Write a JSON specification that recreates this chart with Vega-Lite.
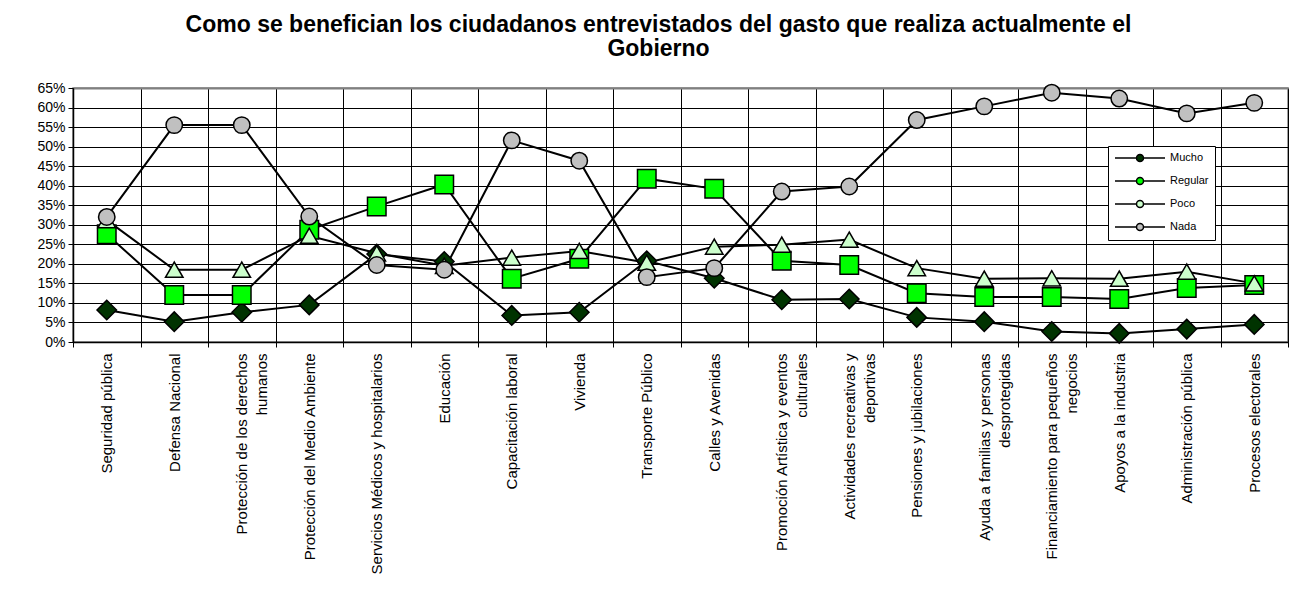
{
  "$schema": "https://vega.github.io/schema/vega-lite/v6.json",
  "width": 1215,
  "height": 254,
  "autosize": "none",
  "padding": {"left": 73, "top": 88, "right": 23, "bottom": 255},
  "background": "white",
  "title": {
    "text": ["Como se benefician los ciudadanos entrevistados del gasto que realiza actualmente el", "Gobierno"],
    "font": "Liberation Sans",
    "fontSize": 23,
    "fontWeight": "bold",
    "color": "black",
    "anchor": "middle",
    "lineHeight": 24,
    "offset": 20,
    "dx": -22
  },
  "data": {
    "values": [
      {"cat": "Seguridad pública", "serie": "Mucho", "v": 0.082},
      {"cat": "Defensa Nacional", "serie": "Mucho", "v": 0.052},
      {"cat": "Protección de los derechos|humanos", "serie": "Mucho", "v": 0.076},
      {"cat": "Protección del Medio Ambiente", "serie": "Mucho", "v": 0.095},
      {"cat": "Servicios Médicos y hospitalarios", "serie": "Mucho", "v": 0.225},
      {"cat": "Educación", "serie": "Mucho", "v": 0.206},
      {"cat": "Capacitación laboral", "serie": "Mucho", "v": 0.068},
      {"cat": "Vivienda", "serie": "Mucho", "v": 0.076},
      {"cat": "Transporte Público", "serie": "Mucho", "v": 0.208},
      {"cat": "Calles y Avenidas", "serie": "Mucho", "v": 0.163},
      {"cat": "Promoción Artística y eventos|culturales", "serie": "Mucho", "v": 0.108},
      {"cat": "Actividades recreativas y|deportivas", "serie": "Mucho", "v": 0.110},
      {"cat": "Pensiones y jubilaciones", "serie": "Mucho", "v": 0.063},
      {"cat": "Ayuda a familias y personas|desprotegidas", "serie": "Mucho", "v": 0.052},
      {"cat": "Financiamiento para pequeños|negocios", "serie": "Mucho", "v": 0.027},
      {"cat": "Apoyos a la industria", "serie": "Mucho", "v": 0.022},
      {"cat": "Administración pública", "serie": "Mucho", "v": 0.033},
      {"cat": "Procesos electorales", "serie": "Mucho", "v": 0.045},
      {"cat": "Seguridad pública", "serie": "Regular", "v": 0.276},
      {"cat": "Defensa Nacional", "serie": "Regular", "v": 0.120},
      {"cat": "Protección de los derechos|humanos", "serie": "Regular", "v": 0.120},
      {"cat": "Protección del Medio Ambiente", "serie": "Regular", "v": 0.287},
      {"cat": "Servicios Médicos y hospitalarios", "serie": "Regular", "v": 0.347},
      {"cat": "Educación", "serie": "Regular", "v": 0.403},
      {"cat": "Capacitación laboral", "serie": "Regular", "v": 0.162},
      {"cat": "Vivienda", "serie": "Regular", "v": 0.213},
      {"cat": "Transporte Público", "serie": "Regular", "v": 0.418},
      {"cat": "Calles y Avenidas", "serie": "Regular", "v": 0.392},
      {"cat": "Promoción Artística y eventos|culturales", "serie": "Regular", "v": 0.208},
      {"cat": "Actividades recreativas y|deportivas", "serie": "Regular", "v": 0.197},
      {"cat": "Pensiones y jubilaciones", "serie": "Regular", "v": 0.125},
      {"cat": "Ayuda a familias y personas|desprotegidas", "serie": "Regular", "v": 0.115},
      {"cat": "Financiamiento para pequeños|negocios", "serie": "Regular", "v": 0.115},
      {"cat": "Apoyos a la industria", "serie": "Regular", "v": 0.110},
      {"cat": "Administración pública", "serie": "Regular", "v": 0.138},
      {"cat": "Procesos electorales", "serie": "Regular", "v": 0.146},
      {"cat": "Seguridad pública", "serie": "Poco", "v": 0.312},
      {"cat": "Defensa Nacional", "serie": "Poco", "v": 0.185},
      {"cat": "Protección de los derechos|humanos", "serie": "Poco", "v": 0.185},
      {"cat": "Protección del Medio Ambiente", "serie": "Poco", "v": 0.272},
      {"cat": "Servicios Médicos y hospitalarios", "serie": "Poco", "v": 0.227},
      {"cat": "Educación", "serie": "Poco", "v": 0.195},
      {"cat": "Capacitación laboral", "serie": "Poco", "v": 0.216},
      {"cat": "Vivienda", "serie": "Poco", "v": 0.233},
      {"cat": "Transporte Público", "serie": "Poco", "v": 0.203},
      {"cat": "Calles y Avenidas", "serie": "Poco", "v": 0.244},
      {"cat": "Promoción Artística y eventos|culturales", "serie": "Poco", "v": 0.249},
      {"cat": "Actividades recreativas y|deportivas", "serie": "Poco", "v": 0.262},
      {"cat": "Pensiones y jubilaciones", "serie": "Poco", "v": 0.189},
      {"cat": "Ayuda a familias y personas|desprotegidas", "serie": "Poco", "v": 0.162},
      {"cat": "Financiamiento para pequeños|negocios", "serie": "Poco", "v": 0.163},
      {"cat": "Apoyos a la industria", "serie": "Poco", "v": 0.162},
      {"cat": "Administración pública", "serie": "Poco", "v": 0.180},
      {"cat": "Procesos electorales", "serie": "Poco", "v": 0.150},
      {"cat": "Seguridad pública", "serie": "Nada", "v": 0.320},
      {"cat": "Defensa Nacional", "serie": "Nada", "v": 0.555},
      {"cat": "Protección de los derechos|humanos", "serie": "Nada", "v": 0.555},
      {"cat": "Protección del Medio Ambiente", "serie": "Nada", "v": 0.321},
      {"cat": "Servicios Médicos y hospitalarios", "serie": "Nada", "v": 0.197},
      {"cat": "Educación", "serie": "Nada", "v": 0.185},
      {"cat": "Capacitación laboral", "serie": "Nada", "v": 0.516},
      {"cat": "Vivienda", "serie": "Nada", "v": 0.464},
      {"cat": "Transporte Público", "serie": "Nada", "v": 0.166},
      {"cat": "Calles y Avenidas", "serie": "Nada", "v": 0.189},
      {"cat": "Promoción Artística y eventos|culturales", "serie": "Nada", "v": 0.385},
      {"cat": "Actividades recreativas y|deportivas", "serie": "Nada", "v": 0.398},
      {"cat": "Pensiones y jubilaciones", "serie": "Nada", "v": 0.568},
      {"cat": "Ayuda a familias y personas|desprotegidas", "serie": "Nada", "v": 0.603},
      {"cat": "Financiamiento para pequeños|negocios", "serie": "Nada", "v": 0.638},
      {"cat": "Apoyos a la industria", "serie": "Nada", "v": 0.623},
      {"cat": "Administración pública", "serie": "Nada", "v": 0.585},
      {"cat": "Procesos electorales", "serie": "Nada", "v": 0.612}
    ]
  },
  "encoding": {
    "x": {
      "field": "cat",
      "type": "nominal",
      "sort": null,
      "scale": {"type": "band", "paddingInner": 0, "paddingOuter": 0},
      "axis": {
        "title": null,
        "labelAngle": -90,
        "labelAlign": "right",
        "labelBaseline": "middle",
        "labelExpr": "split(datum.label, '|')",
        "labelLineHeight": 20,
        "labelFont": "Liberation Sans",
        "labelFontSize": 15,
        "labelColor": "black",
        "labelLimit": 0,
        "labelPadding": 6,
        "labelOverlap": false,
        "tickBand": "extent",
        "grid": true,
        "gridColor": "black",
        "gridWidth": 1,
        "gridOpacity": 1,
        "domainColor": "black",
        "domainWidth": 1.5,
        "tickColor": "black",
        "tickSize": 5,
        "tickWidth": 1
      }
    },
    "y": {
      "field": "v",
      "type": "quantitative",
      "scale": {"domain": [0, 0.65], "nice": false, "zero": true},
      "axis": {
        "title": null,
        "values": [0, 0.05, 0.1, 0.15, 0.2, 0.25, 0.3, 0.35, 0.4, 0.45, 0.5, 0.55, 0.6, 0.65],
        "format": ".0%",
        "labelFont": "Liberation Sans",
        "labelFontSize": 14,
        "labelColor": "black",
        "labelPadding": 3,
        "grid": true,
        "gridColor": {"condition": {"test": "datum.value >= 0.65", "value": "#808080"}, "value": "black"},
        "gridWidth": {"condition": {"test": "datum.value >= 0.65", "value": 2}, "value": 1},
        "gridOpacity": 1,
        "domainColor": "black",
        "domainWidth": 1.5,
        "tickColor": "black",
        "tickSize": 5,
        "tickWidth": 1
      }
    }
  },
  "layer": [
    {
      "mark": {"type": "line", "color": "black", "strokeWidth": 2},
      "encoding": {"detail": {"field": "serie", "type": "nominal"}}
    },
    {
      "mark": {"type": "point", "filled": true, "stroke": "black", "strokeWidth": 1.5, "opacity": 1},
      "encoding": {
        "fill": {
          "field": "serie",
          "type": "nominal",
          "title": "Serie",
          "scale": {"domain": ["Mucho", "Regular", "Poco", "Nada"], "range": ["#003300", "#00ff00", "#ccffcc", "#c0c0c0"]},
          "legend": {
            "title": null,
            "orient": "none",
            "legendX": 1035,
            "legendY": 58,
            "strokeColor": "black",
            "fillColor": "white",
            "padding": 6,
            "labelFont": "Liberation Sans",
            "labelFontSize": 11,
            "labelColor": "black",
            "labelOffset": 44,
            "rowPadding": 9,
            "symbolType": "M-1,0H3.3M4.7,0H9M4.7,0A0.7,0.7,0,1,1,3.3,0A0.7,0.7,0,1,1,4.7,0Z",
            "symbolSize": 100,
            "symbolStrokeColor": "black",
            "symbolStrokeWidth": 1.5
          }
        },
        "shape": {
          "field": "serie",
          "type": "nominal",
          "sort": ["Mucho", "Regular", "Poco", "Nada"],
          "scale": {"range": ["diamond", "square", "triangle-up", "circle"]},
          "legend": null
        },
        "size": {
          "field": "serie",
          "type": "nominal",
          "sort": ["Mucho", "Regular", "Poco", "Nada"],
          "scale": {"range": [380, 270, 400, 380]},
          "legend": null
        }
      }
    }
  ],
  "config": {
    "view": {"stroke": "#808080", "strokeWidth": 1.5},
    "font": "Liberation Sans"
  }
}
